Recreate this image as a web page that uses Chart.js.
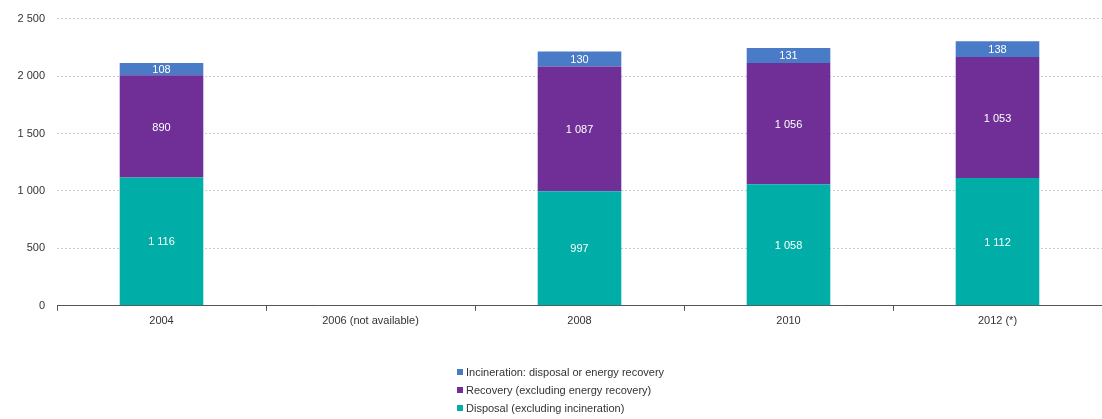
<!DOCTYPE html>
<html>
<head>
<meta charset="utf-8">
<script src="https://cdn.jsdelivr.net/npm/chart.js@4/dist/chart.umd.min.js"></script>
<style>
  html, body { margin: 0; padding: 0; background: #ffffff; }
  #wrap { position: relative; width: 1102px; height: 419px; }
  #legend { position: absolute; left: 457px; top: 363px; font-family: "Liberation Sans", Arial, sans-serif; font-size: 11px; color: #333; }
  #legend div { height: 18px; line-height: 18px; white-space: nowrap; }
  #legend span.sw { display: inline-block; width: 6px; height: 6px; margin-right: 3px; vertical-align: 1px; }
</style>
</head>
<body>
<div id="wrap">
  <canvas id="c" width="1102" height="419"></canvas>
  <div id="legend"></div>
</div>
<script>
const categories = ['2004', '2006 (not available)', '2008', '2010', '2012 (*)'];
const disposal = [1116, null, 997, 1058, 1112];
const recovery = [890, null, 1087, 1056, 1053];
const incineration = [108, null, 130, 131, 138];
const yTicks = [0, 500, 1000, 1500, 2000, 2500];

const seriesNames = {
  disposal: 'Disposal (excluding incineration)',
  recovery: 'Recovery (excluding energy recovery)',
  incineration: 'Incineration: disposal or energy recovery'
};
const colors = {
  disposal: '#00ADA7',
  recovery: '#702F96',
  incineration: '#4A7BC6'
};

const fmt = v => String(v).replace(/\B(?=(\d{3})+(?!\d))/g, ' ');

// Writes each segment's value in the middle of its bar piece
const segmentLabels = {
  id: 'segmentLabels',
  afterDatasetsDraw(chart) {
    const ctx = chart.ctx;
    ctx.save();
    ctx.font = '11px "Liberation Sans", Arial, sans-serif';
    ctx.fillStyle = '#ffffff';
    ctx.textAlign = 'center';
    ctx.textBaseline = 'middle';
    chart.data.datasets.forEach((ds, i) => {
      const meta = chart.getDatasetMeta(i);
      meta.data.forEach((bar, j) => {
        const v = ds.data[j];
        if (v == null) return;
        const p = bar.getProps(['x', 'y', 'base'], true);
        ctx.fillText(fmt(v), p.x, (p.y + p.base) / 2 + 1);
      });
    });
    ctx.restore();
  }
};

const chart = new Chart(document.getElementById('c'), {
  type: 'bar',
  data: {
    labels: categories,
    datasets: [
      { label: seriesNames.disposal, data: disposal, backgroundColor: colors.disposal },
      { label: seriesNames.recovery, data: recovery, backgroundColor: colors.recovery },
      { label: seriesNames.incineration, data: incineration, backgroundColor: colors.incineration }
    ]
  },
  options: {
    responsive: false,
    animation: false,
    layout: { padding: { left: 0, right: 0, top: 14, bottom: 87 } },
    datasets: { bar: { categoryPercentage: 1, barPercentage: 0.4 } },
    plugins: {
      legend: { display: false },
      tooltip: { enabled: false }
    },
    scales: {
      x: {
        stacked: true,
        grid: { drawOnChartArea: false, drawTicks: true, tickLength: 5, color: '#555' },
        border: { display: true, color: '#555', width: 1 },
        ticks: { color: '#333', font: { family: '"Liberation Sans", Arial, sans-serif', size: 11 }, padding: 4, maxRotation: 0 }
      },
      y: {
        stacked: true,
        min: 0,
        max: 2500,
        afterBuildTicks(axis) { axis.ticks = yTicks.map(v => ({ value: v })); },
        grid: { color: '#cccccc', drawTicks: false, lineWidth: 1 },
        border: { display: false, dash: [2, 2] },
        ticks: {
          color: '#333',
          padding: 12,
          font: { family: '"Liberation Sans", Arial, sans-serif', size: 11 },
          callback: v => fmt(v)
        },
        afterFit(axis) { axis.width = 57; }
      }
    }
  },
  plugins: [segmentLabels]
});

// Legend listed top-down, from the top stack piece to the bottom one
const legend = document.getElementById('legend');
['incineration', 'recovery', 'disposal'].forEach(k => {
  const row = document.createElement('div');
  const sw = document.createElement('span');
  sw.className = 'sw';
  sw.style.background = colors[k];
  row.appendChild(sw);
  row.appendChild(document.createTextNode(seriesNames[k]));
  legend.appendChild(row);
});
</script>
</body>
</html>
